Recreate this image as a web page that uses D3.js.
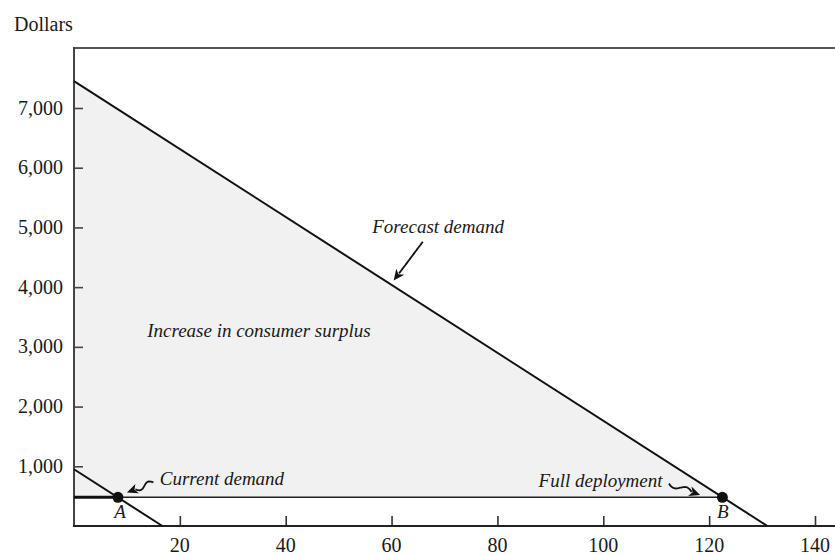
<!DOCTYPE html>
<html><head><meta charset="utf-8">
<script src="https://cdn.jsdelivr.net/npm/d3@7"></script>
<style>
html,body{margin:0;padding:0;background:#fff;}
svg text{font-family:"Liberation Serif","Times New Roman",serif;fill:#1a1a1a;}
</style></head>
<body>
<svg id="chart" width="835" height="555"></svg>
<script>
// ---- data ----
const xTicks = [20, 40, 60, 80, 100, 120, 140];
const yTicks = [1000, 2000, 3000, 4000, 5000, 6000, 7000];
const forecastDemand = [[0, 7450], [131, 0]];
const currentDemand = [[0, 950], [16.7, 0]];
const price = 480;
const pointA = [8.3, 480];
const pointB = [122.5, 480];
const labels = ["Forecast demand", "Increase in consumer surplus", "Current demand", "Full deployment", "A", "B"];

const svg = d3.select("#chart");
const x = d3.scaleLinear().domain([0, 140]).range([74, 815]);
const y = d3.scaleLinear().domain([0, 7000]).range([526, 108]);

// shaded surplus triangle
const area = [[0, price], [0, forecastDemand[0][1]], [pointB[0], price]];
svg.append("path")
  .attr("d", d3.line().x(d => x(d[0])).y(d => y(d[1]))(area) + "Z")
  .attr("fill", "#f1f1f1");

// frame top line
svg.append("line").attr("x1", x(0)).attr("x2", 835).attr("y1", 48).attr("y2", 48)
  .attr("stroke", "#555").attr("stroke-width", 2);

// axes
const yAxis = d3.axisRight(y).tickValues(yTicks).tickSize(9).tickFormat("");
const gy = svg.append("g").attr("transform", `translate(${x(0)},0)`).call(yAxis);
gy.select(".domain").remove();
gy.selectAll(".tick line").attr("stroke", "#444").attr("stroke-width", 1.6);
svg.append("line").attr("x1", x(0)).attr("x2", x(0)).attr("y1", 47).attr("y2", y(0) + 1)
  .attr("stroke", "#444").attr("stroke-width", 2);

svg.selectAll(".ylab").data(yTicks).enter().append("text")
  .attr("x", 63).attr("y", d => y(d) + 6.5).attr("text-anchor", "end")
  .attr("font-size", 20).text(d => d3.format(",")(d));

const xAxis = d3.axisTop(x).tickValues(xTicks).tickSize(10).tickFormat("");
const gx = svg.append("g").attr("transform", `translate(0,${y(0)})`).call(xAxis);
gx.select(".domain").remove();
gx.selectAll(".tick line").attr("stroke", "#333").attr("stroke-width", 1.6);
svg.append("line").attr("x1", x(0) - 1).attr("x2", 835).attr("y1", y(0)).attr("y2", y(0))
  .attr("stroke", "#222").attr("stroke-width", 2);

svg.selectAll(".xlab").data(xTicks).enter().append("text")
  .attr("x", d => x(d)).attr("y", 552).attr("text-anchor", "middle")
  .attr("font-size", 20).text(d => d);

svg.append("text").attr("x", 14).attr("y", 31).attr("font-size", 20).text("Dollars");

const line = d3.line().x(d => x(d[0])).y(d => y(d[1]));

// price line: thick to A, thin to B
svg.append("path").attr("d", line([[0, price], pointA])).attr("stroke", "#111").attr("stroke-width", 3).attr("fill", "none");
svg.append("path").attr("d", line([pointA, pointB])).attr("stroke", "#222").attr("stroke-width", 1.5).attr("fill", "none");

// demand curves
svg.append("path").attr("d", line(forecastDemand)).attr("stroke", "#111").attr("stroke-width", 2).attr("fill", "none");
svg.append("path").attr("d", line(currentDemand)).attr("stroke", "#111").attr("stroke-width", 2).attr("fill", "none");

// points
svg.selectAll(".pt").data([pointA, pointB]).enter().append("circle")
  .attr("cx", d => x(d[0])).attr("cy", d => y(d[1])).attr("r", 5.5).attr("fill", "#111");

// arrows
function arrow(p0, p1, wavy) {
  const x0 = x(p0[0]), y0 = y(p0[1]), x1 = x(p1[0]), y1 = y(p1[1]);
  const dx = x1 - x0, dy = y1 - y0, L = Math.hypot(dx, dy);
  const ux = dx / L, uy = dy / L, nx = -uy, ny = ux;
  const head = 11, hw = 5;
  const bx = x1 - ux * head, by = y1 - uy * head;
  let pts = [];
  const n = 30;
  for (let i = 0; i <= n; i++) {
    const t = i / n;
    const len = (L - head + 2) * t;
    const off = wavy ? 2.6 * Math.sin(t * Math.PI * 2) : 0;
    pts.push([x0 + ux * len + nx * off, y0 + uy * len + ny * off]);
  }
  svg.append("path").attr("d", d3.line()(pts)).attr("stroke", "#111").attr("stroke-width", 1.8).attr("fill", "none");
  svg.append("path")
    .attr("d", `M${x1},${y1}L${bx + nx * hw},${by + ny * hw}L${bx + ux * 3},${by + uy * 3}L${bx - nx * hw},${by - ny * hw}Z`)
    .attr("fill", "#111");
}
arrow([65.9, 4760], [60.4, 4110], false);
arrow([15.0, 730], [10.0, 560], true);
arrow([112.4, 710], [118.3, 520], true);

// annotation text
const it = (t, xv, yv, anchor, size) => svg.append("text").attr("x", x(xv)).attr("y", y(yv))
  .attr("text-anchor", anchor).attr("font-style", "italic").attr("font-size", size).text(t);
it(labels[0], 68.8, 4910, "middle", 19);
it(labels[1], 34.95, 3165, "middle", 19);
it(labels[2], 16.2, 690, "start", 19);
it(labels[3], 111.2, 655, "end", 19);
it(labels[4], 8.7, 134, "middle", 19);
it(labels[5], 122.6, 134, "middle", 19);
</script>
</body></html>
